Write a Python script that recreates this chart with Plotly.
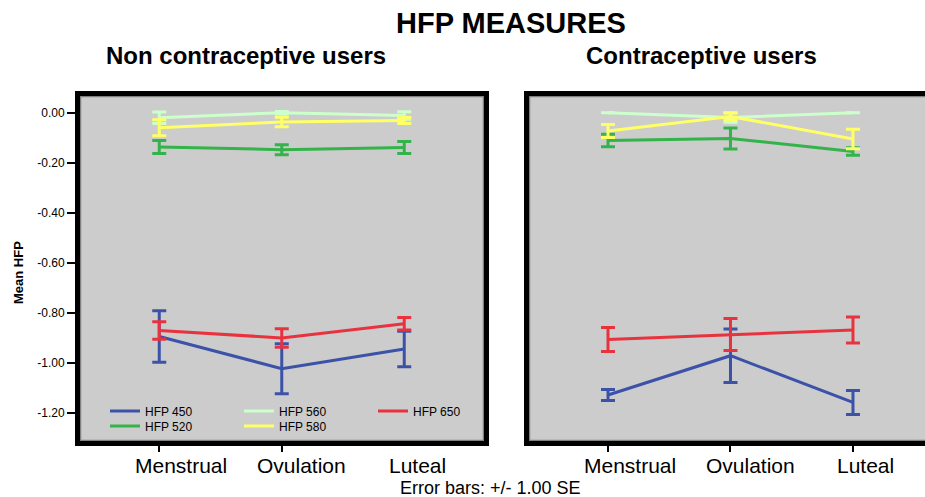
import plotly.graph_objects as go

# Cycle phases (x categories)
phases = ["Menstrual", "Ovulation", "Luteal"]

# Mean HFP and standard errors — non contraceptive users
non_450 = [-0.895, -1.024, -0.945]
non_450_se = [0.103, 0.100, 0.071]
non_520 = [-0.137, -0.148, -0.139]
non_520_se = [0.026, 0.020, 0.024]
non_560 = [-0.020, 0.000, -0.011]
non_560_se = [0.023, 0.005, 0.015]
non_580 = [-0.060, -0.037, -0.031]
non_580_se = [0.032, 0.019, 0.012]
non_650 = [-0.871, -0.901, -0.844]
non_650_se = [0.035, 0.037, 0.025]

# Mean HFP and standard errors — contraceptive users
con_450 = [-1.129, -0.972, -1.159]
con_450_se = [0.022, 0.107, 0.048]
con_520 = [-0.111, -0.103, -0.155]
con_520_se = [0.025, 0.042, 0.015]
con_560 = [0.000, -0.019, 0.000]
con_560_se = [0.000, 0.019, 0.000]
con_580 = [-0.073, -0.015, -0.105]
con_580_se = [0.026, 0.014, 0.039]
con_650 = [-0.907, -0.887, -0.869]
con_650_se = [0.048, 0.064, 0.052]

y_ticks = [0.0, -0.2, -0.4, -0.6, -0.8, -1.0, -1.2]
y_tick_text = ["0.00", "-0.20", "-0.40", "-0.60", "-0.80", "-1.00", "-1.20"]

series_names = ["HFP 450", "HFP 520", "HFP 560", "HFP 580", "HFP 650"]
colors = ["#3c52a8", "#33b34a", "#ccffcc", "#ffff66", "#e8333f"]
# first legend row: 450, 560, 650; second row: 520, 580
legend_ids = ["legend", "legend2", "legend", "legend2", "legend"]

non_means = [non_450, non_520, non_560, non_580, non_650]
non_ses = [non_450_se, non_520_se, non_560_se, non_580_se, non_650_se]
con_means = [con_450, con_520, con_560, con_580, con_650]
con_ses = [con_450_se, con_520_se, con_560_se, con_580_se, con_650_se]

W, H = 925, 497
FONT = "Arial, 'Liberation Sans', sans-serif"


def px(x):
    return x / W


def py(y):
    return 1 - y / H


fig = go.Figure()

for name, col, leg, m, s in zip(series_names, colors, legend_ids, non_means, non_ses):
    fig.add_trace(go.Scatter(
        x=phases, y=m, name=name, mode="lines",
        line=dict(color=col, width=3),
        error_y=dict(type="data", array=s, visible=True, color=col, thickness=3, width=7),
        legend=leg, showlegend=True, xaxis="x", yaxis="y",
    ))

for name, col, m, s in zip(series_names, colors, con_means, con_ses):
    fig.add_trace(go.Scatter(
        x=phases, y=m, name=name, mode="lines",
        line=dict(color=col, width=3),
        error_y=dict(type="data", array=s, visible=True, color=col, thickness=3, width=7),
        showlegend=False, xaxis="x2", yaxis="y2",
    ))

y_range = [-1.3132, 0.0668]
y_dom = [py(441), py(96)]

xaxis_common = dict(
    type="category", showgrid=False, zeroline=False, showline=False,
    ticks="outside", ticklen=10, tickwidth=2, tickcolor="black",
    showticklabels=False,
)

legend_common = dict(
    orientation="h", x=px(105), xanchor="left", yanchor="middle",
    bgcolor="rgba(0,0,0,0)", borderwidth=0,
    entrywidth=89, entrywidthmode="pixels",
    font=dict(family=FONT, size=12, color="black"),
    itemwidth=30, tracegroupgap=0,
)

fig.update_layout(
    width=W, height=H, autosize=False,
    margin=dict(l=0, r=0, t=0, b=0),
    paper_bgcolor="white", plot_bgcolor="#cccccc",
    xaxis=dict(domain=[px(80), px(484)], range=[-0.647, 2.651], anchor="y",
               tickvals=phases[:2], **xaxis_common),
    xaxis2=dict(domain=[px(529), 1.0], range=[-0.645, 2.588], anchor="y2",
                tickvals=phases, **xaxis_common),
    yaxis=dict(
        domain=y_dom, range=y_range, anchor="x",
        tickvals=y_ticks, ticktext=y_tick_text,
        showgrid=False, zeroline=False, showline=False,
        ticks="outside", ticklen=12, tickwidth=2, tickcolor="black",
        tickfont=dict(family=FONT, size=12, color="black"),
    ),
    yaxis2=dict(
        domain=y_dom, range=y_range, anchor="x2",
        showgrid=False, zeroline=False, showline=False,
        showticklabels=False, ticks="",
    ),
    legend=dict(y=py(411), **legend_common),
    legend2=dict(y=py(426), **legend_common),
)

# panel frames: thin grey inner outline and thick black border
shapes = []
for x0, x1 in [(80.5, 483.5), (529.5, 940)]:
    shapes.append(dict(type="rect", xref="paper", yref="paper",
                       x0=px(x0), x1=px(x1), y0=py(440.5), y1=py(96.5),
                       line=dict(color="#808080", width=1.5), layer="above"))
for x0, x1 in [(77.5, 486.5), (526.5, 945)]:
    shapes.append(dict(type="rect", xref="paper", yref="paper",
                       x0=px(x0), x1=px(x1), y0=py(443.5), y1=py(93.5),
                       line=dict(color="black", width=5), layer="above"))
fig.update_layout(shapes=shapes)

annotations = [
    dict(text="<b>HFP MEASURES</b>", xref="paper", x=px(511), y=py(23), font=dict(size=29)),
    dict(text="<b>Non contraceptive users</b>", xref="paper", x=px(246), y=py(56), font=dict(size=24)),
    dict(text="<b>Contraceptive users</b>", xref="paper", x=px(701), y=py(56), font=dict(size=24)),
    dict(text="<b>Mean HFP</b>", xref="paper", x=px(18), y=py(273), font=dict(size=13), textangle=-90),
    dict(text="Error bars: +/- 1.00 SE", xref="paper", x=px(490), y=py(488), font=dict(size=18)),
]
# phase labels under each panel, set slightly right of their ticks
label_shift = [22, 20, 13]
for xref in ["x", "x2"]:
    for ph, dx in zip(phases, label_shift):
        annotations.append(dict(text=ph, xref=xref, x=ph, xshift=dx,
                                y=py(465), font=dict(size=21)))
for a in annotations:
    a.update(yref="paper", showarrow=False, xanchor="center", yanchor="middle")
    a["font"].update(family=FONT, color="black")
fig.update_layout(annotations=annotations)

fig.write_html("out.html")
